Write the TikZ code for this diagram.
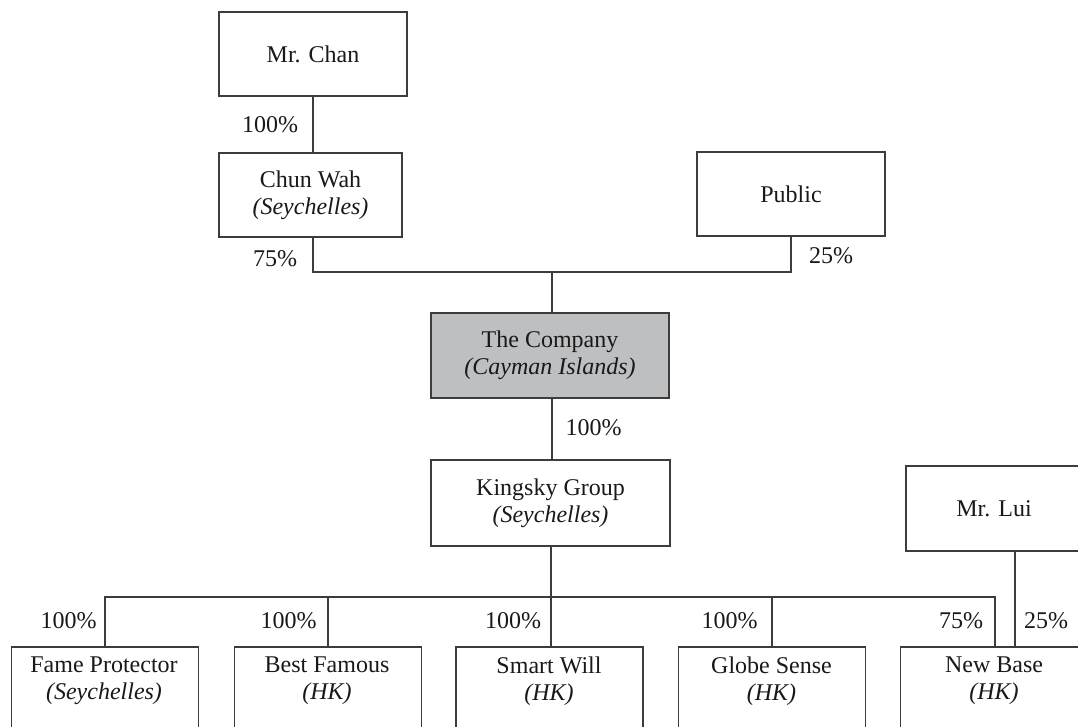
\documentclass[tikz,border=0pt]{standalone}
\usepackage{fontspec}
\setmainfont{Liberation Serif}
\definecolor{linegray}{HTML}{3C3C3C}
\definecolor{cofill}{HTML}{BEBFC1}
\begin{document}
\begin{tikzpicture}[x=1pt,y=-1pt,
  every node/.style={font=\fontsize{24}{27}\selectfont, text=black!90},
  box/.style={draw=linegray, line width=1.1pt, inner sep=0pt, align=center},
  bbox/.style={draw=linegray, line width=1.1pt, inner sep=0pt, minimum width=187pt, minimum height=100pt},
  btext/.style={inner sep=0pt, align=center},
  conn/.style={draw=linegray, line width=1.1pt},
  pct/.style={inner sep=0pt}]
\clip (0,0) rectangle (1078,727);
\fill[white] (0,0) rectangle (1078,727);
% top boxes
\node[box, minimum width=188pt, minimum height=84pt] (chan) at (313,54) {Mr. Chan};
\node[box, minimum width=183pt, minimum height=84pt] (chun) at (310.5,195) {Chun Wah\\\textit{(Seychelles)}};
\node[box, minimum width=188pt, minimum height=84pt] (public) at (791,194) {Public};
\node[box, fill=cofill, minimum width=238pt, minimum height=85pt] (company) at (550,355.5) {The Company\\\textit{(Cayman Islands)}};
\node[box, minimum width=239pt, minimum height=86pt] (kingsky) at (550.5,503) {Kingsky Group\\\textit{(Seychelles)}};
\node[box, minimum width=176pt, minimum height=85pt] (lui) at (994,508.5) {Mr. Lui};
% bottom boxes
\node[bbox] (fame) at (105,697) {};
\node[btext] (famet) at (104,681) {Fame Protector\\\textit{(Seychelles)}};
\node[bbox] (best) at (328,697) {};
\node[btext] (bestt) at (327,681) {Best Famous\\\textit{(HK)}};
\node[bbox] (smart) at (549.5,697) {};
\node[btext] (smartt) at (549,681) {Smart Will\\\textit{(HK)}};
\node[bbox] (globe) at (772,697) {};
\node[btext] (globet) at (771.5,681) {Globe Sense\\\textit{(HK)}};
\node[bbox] (newbase) at (994,697) {};
\node[btext] (newbaset) at (994,681) {New Base\\\textit{(HK)}};
% junctions
\coordinate (j1) at (552,272);
\coordinate (j2) at (551,597);
\coordinate (nb75) at (995,597);
\coordinate (nb25) at (1015,597);
% connectors
\draw[conn] (chan.south) -- (chan.south |- chun.north);
\draw[conn] (chan.south |- chun.south) |- (j1) -| (public.south);
\draw[conn] (j1) -- (j1 |- company.north);
\draw[conn] (company.south -| j1) -- (kingsky.north -| j1);
\draw[conn] (kingsky.south -| j2) -- (smart.north -| j2);
\draw[conn] (fame.north) |- (nb75) -- (nb75 |- newbase.north);
\draw[conn] (best.north) -- (best.north |- j2);
\draw[conn] (globe.north) -- (globe.north |- j2);
\draw[conn] (lui.south -| nb25) -- (newbase.north -| nb25);
% percentages
\node[pct] (p1) at (270,125) {100\%};
\node[pct] (p2) at (275,258.5) {75\%};
\node[pct] (p3) at (831,256) {25\%};
\node[pct] (p4) at (593.5,427.5) {100\%};
\node[pct] (p5) at (68.5,621) {100\%};
\node[pct] (p6) at (288.5,621) {100\%};
\node[pct] (p7) at (513,621) {100\%};
\node[pct] (p8) at (729.5,621) {100\%};
\node[pct] (p9) at (961,621) {75\%};
\node[pct] (p10) at (1046,621) {25\%};
\end{tikzpicture}
\end{document}
